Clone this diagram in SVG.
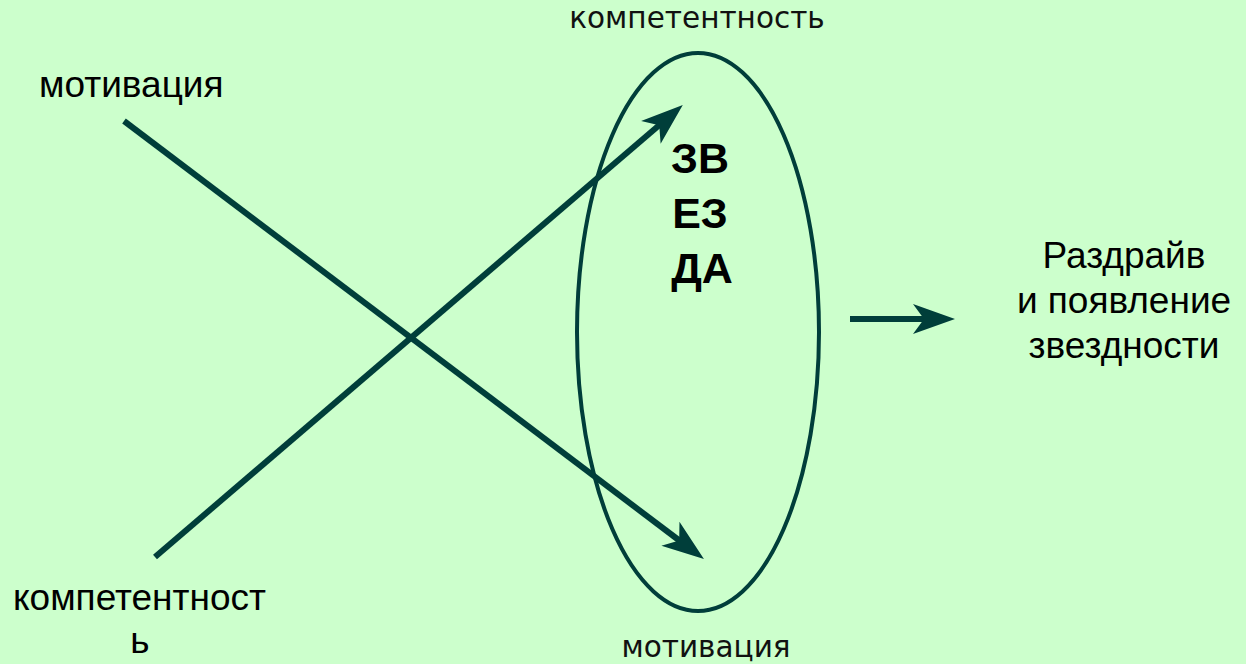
<svg xmlns="http://www.w3.org/2000/svg" width="1246" height="664" viewBox="0 0 1246 664">
<style>
.bg{fill:#CCFFCC}
.ln{stroke:#003E3A;stroke-width:6;fill:none;stroke-linecap:butt}
.ell{stroke:#003E3A;stroke-width:4;fill:none}
.t{font-family:"Liberation Sans",Arial,sans-serif;font-size:37px;fill:#000}
.t2{font-family:"DejaVu Sans",Verdana,sans-serif;font-size:29.5px;fill:#111}
.b{font-family:"Liberation Sans",Arial,sans-serif;font-size:43px;font-weight:bold;fill:#000}
</style>
<defs>
<marker id="ah" viewBox="-44 -17 46 34" markerWidth="46" markerHeight="34" refX="-30" refY="0" orient="auto" markerUnits="userSpaceOnUse">
<path d="M0,0 L-42,-15 L-31,0 L-42,15 Z" fill="#003E3A"/>
</marker>
</defs>
<rect class="bg" x="0" y="0" width="1246" height="664"/>
<g id="star">
<ellipse class="ell" cx="698" cy="332" rx="121" ry="279"/>
<text class="b" x="700" y="173" text-anchor="middle">ЗВ</text>
<text class="b" x="700" y="228" text-anchor="middle">ЕЗ</text>
<text class="b" x="702" y="283" text-anchor="middle">ДА</text>
</g>
<g id="label-motivation-left">
<text class="t" x="39" y="97">мотивация</text>
</g>
<g id="label-competence-left">
<text class="t" x="13" y="610">компетентност</text>
<text class="t" x="140" y="653" text-anchor="middle">ь</text>
</g>
<g id="label-competence-top">
<text class="t2" x="697" y="28" text-anchor="middle">компетентность</text>
</g>
<g id="label-motivation-bottom">
<text class="t2" x="706" y="657" text-anchor="middle">мотивация</text>
</g>
<g id="result">
<text class="t" x="1124" y="268" text-anchor="middle">Раздрайв</text>
<text class="t" x="1124" y="313" text-anchor="middle">и появление</text>
<text class="t" x="1124" y="358" text-anchor="middle">звездности</text>
</g>
<g id="connectors">
<line class="ln" x1="124" y1="121" x2="680" y2="541" marker-end="url(#ah)"/>
<line class="ln" x1="155" y1="557" x2="660" y2="124.5" marker-end="url(#ah)"/>
<line class="ln" x1="850" y1="319" x2="925" y2="319" stroke-width="5" marker-end="url(#ah)"/>
</g>
</svg>
